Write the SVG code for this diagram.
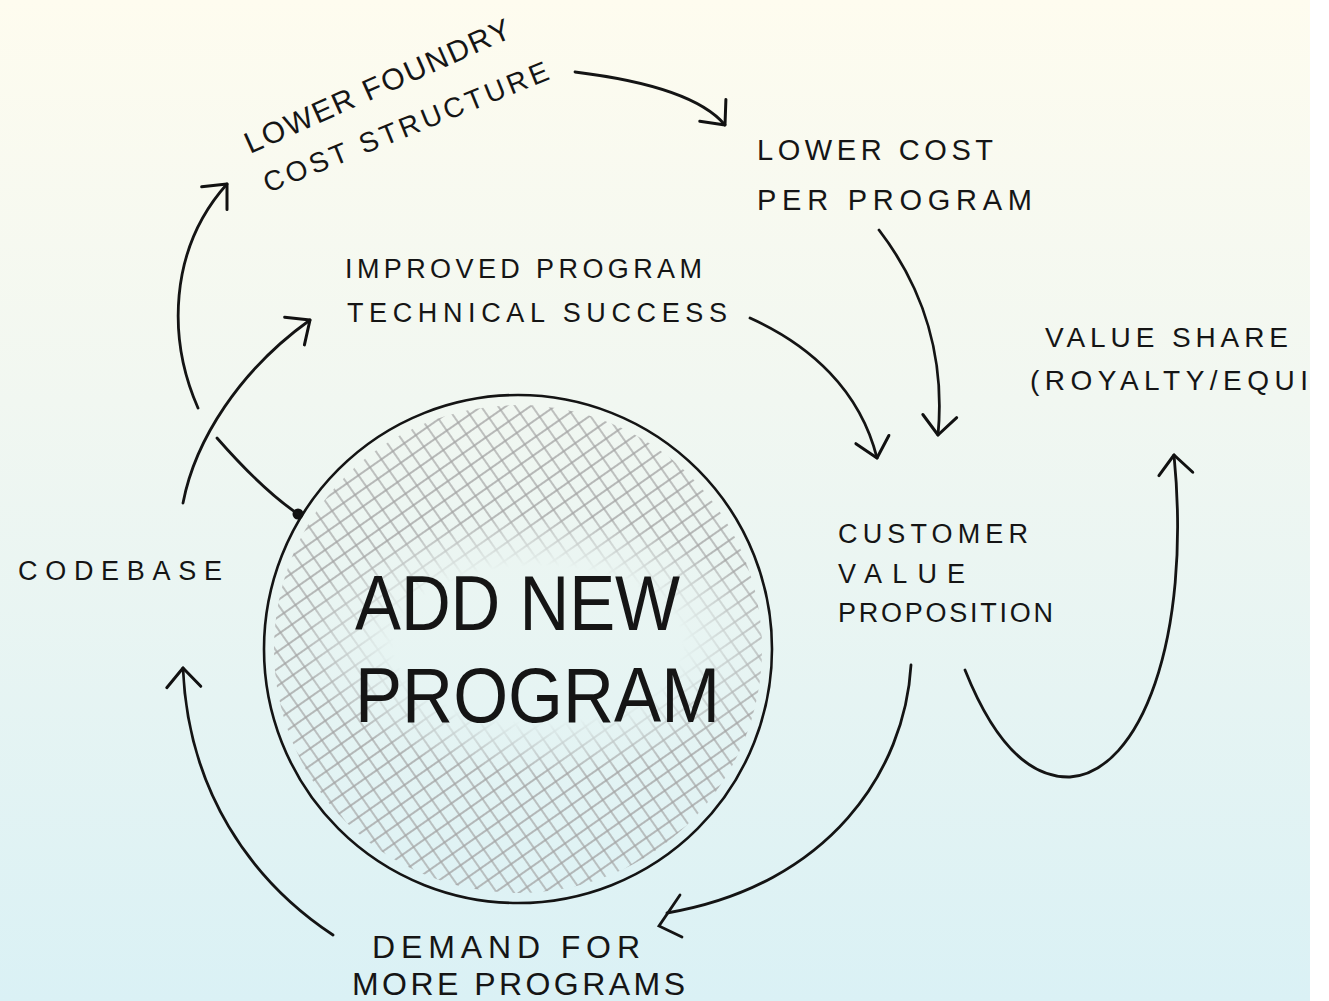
<svg xmlns="http://www.w3.org/2000/svg" width="1329" height="1001" viewBox="0 0 1329 1001">
<defs>
<linearGradient id="bg" x1="0" y1="0" x2="0" y2="1">
<stop offset="0" stop-color="#fefcef"/>
<stop offset="0.4" stop-color="#f1f7f1"/>
<stop offset="1" stop-color="#daf1f5"/>
</linearGradient>
<pattern id="hatch" width="14" height="14" patternUnits="userSpaceOnUse" patternTransform="rotate(-35)">
<path d="M0,7 H14 M7,0 V14" stroke="#a3a3a3" stroke-width="1.3" fill="none"/>
</pattern>
<radialGradient id="fade">
<stop offset="0" stop-color="#000"/>
<stop offset="0.6" stop-color="#000"/>
<stop offset="1" stop-color="#000" stop-opacity="0"/>
</radialGradient>
<mask id="hm" maskUnits="userSpaceOnUse" x="0" y="0" width="1329" height="1001">
<circle cx="518" cy="649" r="244" fill="#fff"/>
<ellipse cx="538" cy="644" rx="240" ry="130" fill="url(#fade)"/>
</mask>
<marker id="ah" markerUnits="userSpaceOnUse" markerWidth="40" markerHeight="40" viewBox="-25 -20 30 40" refX="0" refY="0" orient="auto">
<path d="M-19,-17 L0,0 L-19,17" fill="none" stroke="#111" stroke-width="3" stroke-linecap="round" stroke-linejoin="round"/>
</marker>
<style>
.t{font-family:"Liberation Sans","Arial",sans-serif;fill:#151515}
.s{font-size:29px}
.b{font-size:78px}
.c{fill:none;stroke:#141414;stroke-width:2.8;stroke-linecap:round}
</style>
</defs>
<rect width="1329" height="1001" fill="url(#bg)"/>
<rect x="1310" y="0" width="19" height="1001" fill="#fff"/>

<g id="add-new-program">
<rect x="260" y="390" width="520" height="520" fill="url(#hatch)" mask="url(#hm)"/>
<circle cx="518" cy="649" r="254" fill="none" stroke="#141414" stroke-width="2.6"/>
<circle cx="298" cy="514" r="5.5" fill="#111"/>
<text class="t b" x="355" y="630" textLength="325" lengthAdjust="spacingAndGlyphs">ADD NEW</text>
<text class="t b" x="355" y="722" textLength="365" lengthAdjust="spacingAndGlyphs">PROGRAM</text>
</g>

<g id="lower-foundry-cost-structure">
<text class="t" font-size="30" transform="translate(250,154) rotate(-24)" textLength="288" lengthAdjust="spacing">LOWER FOUNDRY</text>
<text class="t" font-size="28" transform="translate(268,193) rotate(-22)" textLength="305" lengthAdjust="spacing">COST STRUCTURE</text>
</g>

<g id="lower-cost-per-program">
<text class="t s" x="757" y="160" textLength="236" lengthAdjust="spacing">LOWER COST</text>
<text class="t s" x="757" y="210" textLength="275" lengthAdjust="spacing">PER PROGRAM</text>
</g>

<g id="improved-program-technical-success">
<text class="t" font-size="27" x="345" y="278" textLength="357" lengthAdjust="spacing">IMPROVED PROGRAM</text>
<text class="t" font-size="27" x="347" y="322" textLength="380" lengthAdjust="spacing">TECHNICAL SUCCESS</text>
</g>

<g id="value-share">
<text class="t" font-size="28" x="1045" y="347" textLength="243" lengthAdjust="spacing">VALUE SHARE</text>
<text class="t" font-size="28" x="1030" y="390" textLength="278" lengthAdjust="spacing">(ROYALTY/EQUI</text>
</g>

<g id="codebase">
<text class="t" font-size="27" x="18" y="580" textLength="204" lengthAdjust="spacing">CODEBASE</text>
</g>

<g id="customer-value-proposition">
<text class="t" font-size="27" x="838" y="543" textLength="190" lengthAdjust="spacing">CUSTOMER</text>
<text class="t" font-size="27" x="838" y="583" textLength="127" lengthAdjust="spacing">VALUE</text>
<text class="t" font-size="27" x="838" y="622" textLength="215" lengthAdjust="spacing">PROPOSITION</text>
</g>

<g id="demand-for-more-programs">
<text class="t" font-size="32" x="372" y="958" textLength="268" lengthAdjust="spacing">DEMAND FOR</text>
<text class="t" font-size="32" x="352" y="995" textLength="333" lengthAdjust="spacing">MORE PROGRAMS</text>
</g>

<g id="connectors">
<path class="c" d="M575,72 C640,80 700,95 725,125" marker-end="url(#ah)"/>
<path class="c" d="M198,408 C168,340 168,250 227,184" marker-end="url(#ah)"/>
<path class="c" d="M183,503 C195,440 240,370 310,320" marker-end="url(#ah)"/>
<path class="c" d="M217,438 C245,470 270,495 298,514"/>
<path class="c" d="M750,318 C810,345 860,390 877,458" marker-end="url(#ah)"/>
<path class="c" d="M879,230 C925,290 945,360 938,435" marker-end="url(#ah)"/>
<path class="c" d="M911,665 C905,770 830,885 667,913"/>
<path class="c" d="M680,895 L659,926 L682,937"/>
<path class="c" d="M965,670 C995,745 1030,778 1070,777 C1140,772 1192,640 1174,455" marker-end="url(#ah)"/>
<path class="c" d="M333,935 C250,880 188,790 183,668" marker-end="url(#ah)"/>
</g>
</svg>
